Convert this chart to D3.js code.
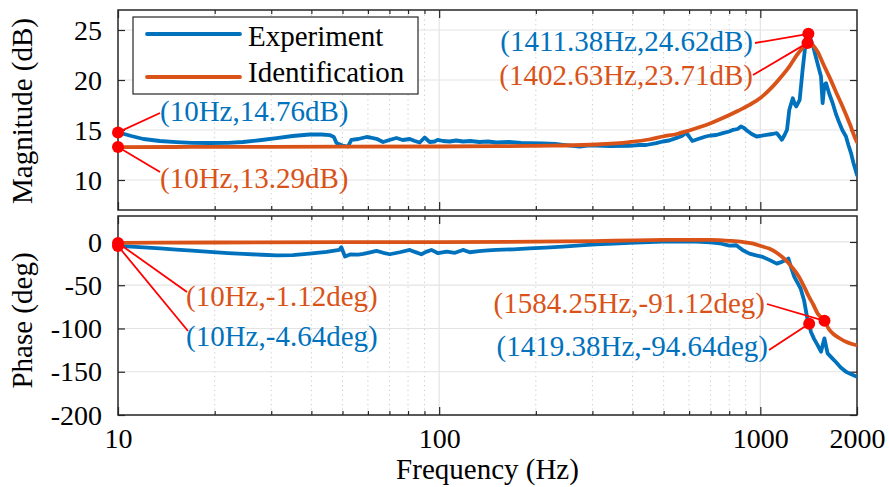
<!DOCTYPE html>
<html>
<head>
<meta charset="utf-8">
<script src="https://cdn.jsdelivr.net/npm/d3@7/dist/d3.min.js"></script>
<style>
  html, body { margin: 0; padding: 0; background: #fff; }
  svg { display: block; }
</style>
</head>
<body>
<svg id="chart" width="889" height="487"></svg>
<script>
// ---- Data -------------------------------------------------------------
// Measured (Experiment) magnitude response
const magExpFreq = [10, 11, 12, 13.5, 15.2, 17, 19.3, 22, 24.5, 28, 31.2, 35, 39.5, 43, 45.6, 47, 47.9, 50, 52, 53.3,
  56, 59.4, 61, 63.8, 66.9, 70, 73.6, 77, 81, 84, 87, 90.1, 93.4, 96.8, 99, 102.8, 107.8, 113, 118.6, 125,
  133.5, 142, 150.7, 165, 180, 191, 210, 230, 243, 274, 290, 308, 340, 391, 420, 441, 474, 497, 520, 546,
  570, 587, 600, 614, 640, 676, 700, 730, 764, 800, 823, 850, 870, 890, 904, 940, 973, 1000, 1045, 1090,
  1125, 1150, 1167, 1190, 1211, 1231, 1262, 1280, 1294, 1326, 1354, 1387, 1411.38, 1437, 1462, 1488, 1520, 1545, 1563, 1583,
  1602, 1640, 1680, 1720, 1763, 1800, 1848, 1880, 1916, 1950, 2000];
const magExpDb = [14.76, 14.4, 14.1, 13.9, 13.79, 13.72, 13.7, 13.72, 13.8, 14.0, 14.19, 14.4, 14.55, 14.55, 14.49, 14.3, 13.69, 13.45, 13.35, 14.02,
  14.1, 14.3, 14.25, 14.12, 13.8, 14.0, 14.2, 14.0, 14.1, 13.9, 13.75, 14.25, 13.8, 13.85, 14.02, 13.9, 13.85, 13.95, 13.85, 13.9,
  13.8, 13.85, 13.75, 13.8, 13.72, 13.69, 13.65, 13.6, 13.52, 13.35, 13.45, 13.45, 13.4, 13.42, 13.5, 13.5, 13.69, 13.85, 13.95, 14.19,
  14.4, 14.75, 14.35, 13.9, 14.1, 14.35, 14.45, 14.5, 14.69, 14.85, 15.02, 15.1, 15.35, 15.2, 15.0, 14.6, 14.35, 14.4, 14.52, 14.6,
  14.69, 14.3, 14.02, 14.5, 15.02, 17.02, 18.18, 17.6, 17.35, 18.01, 21.0, 24.0, 24.62, 24.0, 23.3, 22.34, 21.2, 20.34, 17.68, 19.51,
  19.68, 18.6, 17.68, 16.6, 15.69, 15.0, 14.35, 13.5, 12.69, 11.7, 10.5];

// Identified model magnitude response
const magIdFreq = [10, 15, 20, 30, 50, 100, 150, 200, 243, 308, 391, 450, 497, 550, 601, 694, 764, 850, 925, 1000,
  1092, 1160, 1231, 1300, 1354, 1402.63, 1455, 1508, 1570, 1639, 1720, 1803, 1900, 1985, 2000];
const magIdDb = [13.29, 13.3, 13.32, 13.32, 13.33, 13.35, 13.38, 13.42, 13.45, 13.55, 13.79, 14.05, 14.35, 14.6, 14.95, 15.62, 16.19, 16.9, 17.51, 18.2,
  19.34, 20.3, 21.34, 22.5, 23.2, 23.71, 23.5, 22.83, 21.6, 20.34, 18.8, 17.35, 15.6, 14.0, 13.8];

// Measured (Experiment) phase response
const phaseExpFreq = [10, 11, 12, 13.5, 15.2, 17, 19.3, 22, 24.5, 28, 31.2, 35, 39.5, 44.6, 48.9, 49.6, 50.9, 52.8, 56, 58,
  61, 63.8, 67, 70.2, 75.4, 81, 84, 88, 91, 94.6, 99.2, 105.5, 112, 118.6, 124.6, 133, 142, 150.7, 170, 191,
  215, 243, 275, 308, 350, 391, 450, 497, 560, 630, 700, 746, 801, 842, 882, 925, 970, 1017, 1070, 1125,
  1167, 1200, 1223, 1245, 1276, 1305, 1335, 1368, 1400, 1419.38, 1437, 1470, 1508, 1545, 1583, 1620, 1670, 1716, 1780, 1848,
  1920, 2000];
const phaseExpDeg = [-4.64, -5.5, -6.3, -7.5, -8.8, -10, -11.5, -12.8, -13.8, -14.8, -15.5, -15.2, -13.5, -11.5, -9.2, -6.1, -16.9, -14.5, -14.6, -13.8,
  -12, -10.4, -12.5, -14.2, -11.9, -9.2, -11.5, -14.2, -11.5, -9.2, -13, -11.1, -12.5, -9.2, -11.9, -10.5, -9.8, -9.2, -8.5, -7.3,
  -6.5, -5.4, -4, -2.7, -1.8, -1.1, -0.2, 0.4, 0.8, 0.4, -0.5, -1.5, -4.2, -3.8, -9.6, -13.5, -15.5, -17.3, -21, -25,
  -23, -21, -19.2, -28.8, -40.4, -47, -53.8, -67.3, -88, -94.64, -103.8, -112, -119.2, -126.9, -111.5, -128.8, -134, -138.5, -145, -150,
  -153, -155.8];

// Identified model phase response
const phaseIdFreq = [10, 20, 50, 100, 200, 300, 400, 500, 600, 700, 800, 880, 950, 1010, 1065, 1130, 1200, 1260, 1320, 1370,
  1418, 1460, 1508, 1584.25, 1630, 1680, 1760, 1848, 1930, 2000];
const phaseIdDeg = [-1.12, -0.6, -0.3, -0.2, 0.3, 1.0, 1.8, 2.3, 2.5, 2.3, 1.3, 0, -2, -5, -7.7, -13, -21.1, -30, -40.4, -52,
  -63.5, -72, -82.6, -91.12, -100, -105.7, -111, -115.4, -118, -119.5];

// Axis ticks
const freqMajorTicks = [10, 100, 1000];
const freqMinorTicks = [20, 30, 40, 50, 60, 70, 80, 90, 200, 300, 400, 500, 600, 700, 800, 900];
const freqTickLabels = [10, 100, 1000, 2000];
const magTicks = [10, 15, 20, 25];
const phaseTicks = [0, -50, -100, -150, -200];

// Legend entries
const seriesNames = ["Experiment", "Identification"];

// Data tips: [frequency, value, text, series]
const magTips = [
  [10, 14.76, "(10Hz,14.76dB)", 0],
  [10, 13.29, "(10Hz,13.29dB)", 1],
  [1411.38, 24.62, "(1411.38Hz,24.62dB)", 0],
  [1402.63, 23.71, "(1402.63Hz,23.71dB)", 1]
];
const phaseTips = [
  [10, -1.12, "(10Hz,-1.12deg)", 1],
  [10, -4.64, "(10Hz,-4.64deg)", 0],
  [1584.25, -91.12, "(1584.25Hz,-91.12deg)", 1],
  [1419.38, -94.64, "(1419.38Hz,-94.64deg)", 0]
];

// ---- Layout & style ---------------------------------------------------
const colors = ["#0072BD", "#D95319"];
const axisColor = "#262626";
const serif = '"Liberation Serif", "Times New Roman", serif';
const fontSize = 29;
const tickFont = 28;
const left = 118, right = 857;
const magBox = { top: 10, bottom: 210 };
const phBox = { top: 216, bottom: 415 };

const svg = d3.select("#chart");

const x = d3.scaleLog().domain([10, 2000]).range([left, right]);
const yMag = d3.scaleLinear().domain([7, 27]).range([magBox.bottom, magBox.top]);
const yPh = d3.scaleLinear().domain([-200, 30]).range([phBox.bottom, phBox.top]);

function label(sel, size) {
  return sel.style("font-family", serif).style("font-size", size + "px");
}

function drawPanel(id, box, y, yTicks, showXLabels) {
  const g = svg.append("g");
  const h = box.bottom - box.top;

  g.append("clipPath").attr("id", id + "-clip")
    .append("rect").attr("x", left).attr("y", box.top)
    .attr("width", right - left).attr("height", h);

  // grid
  const grid = g.append("g");
  grid.selectAll("line.minor").data(freqMinorTicks).join("line")
    .attr("x1", d => x(d)).attr("x2", d => x(d))
    .attr("y1", box.top).attr("y2", box.bottom)
    .attr("stroke", "#c8c8c8").attr("stroke-width", 1)
    .attr("stroke-dasharray", "1.2,3.5");
  grid.selectAll("line.major").data(freqMajorTicks.filter(d => d > 10)).join("line")
    .attr("x1", d => x(d)).attr("x2", d => x(d))
    .attr("y1", box.top).attr("y2", box.bottom)
    .attr("stroke", "#e3e3e3").attr("stroke-width", 1.2);
  grid.selectAll("line.h").data(yTicks).join("line")
    .attr("x1", left).attr("x2", right)
    .attr("y1", d => y(d)).attr("y2", d => y(d))
    .attr("stroke", "#e3e3e3").attr("stroke-width", 1.2);

  // axes (inward ticks)
  const mk = (axis, tr) => {
    const a = g.append("g").attr("transform", tr).call(axis);
    a.select(".domain").remove();
    a.selectAll(".tick line").attr("stroke", axisColor).attr("stroke-width", 1.2);
    return a;
  };
  mk(d3.axisBottom(x).tickValues(freqMinorTicks).tickSize(-4).tickFormat(""), `translate(0,${box.bottom})`);
  mk(d3.axisTop(x).tickValues(freqMinorTicks).tickSize(-4).tickFormat(""), `translate(0,${box.top})`);
  mk(d3.axisTop(x).tickValues(freqMajorTicks).tickSize(-8).tickFormat(""), `translate(0,${box.top})`);
  const xb = mk(d3.axisBottom(x).tickValues(showXLabels ? freqTickLabels : freqMajorTicks)
      .tickSize(-8).tickPadding(13).tickFormat(showXLabels ? d3.format("d") : ""),
    `translate(0,${box.bottom})`);
  label(xb.selectAll("text").attr("fill", "#000"), tickFont);

  const yl = mk(d3.axisLeft(y).tickValues(yTicks).tickSize(-7).tickPadding(16).tickFormat(d3.format("d")),
    `translate(${left},0)`);
  label(yl.selectAll("text").attr("fill", "#000"), tickFont)
    .attr("dy", "0.33em")
    .text(d => d < 0 ? "-" + Math.abs(d) : d);
  mk(d3.axisRight(y).tickValues(yTicks).tickSize(-7).tickFormat(""), `translate(${right},0)`);

  // frame
  g.append("rect").attr("x", left).attr("y", box.top)
    .attr("width", right - left).attr("height", h)
    .attr("fill", "none").attr("stroke", axisColor).attr("stroke-width", 1.5);

  return g;
}

function drawSeries(g, id, y, freq, vals, color, curve) {
  const pts = freq.map((f, i) => [f, vals[i]]);
  const line = d3.line().x(d => x(d[0])).y(d => y(d[1])).curve(curve);
  g.append("path").datum(pts)
    .attr("clip-path", `url(#${id}-clip)`)
    .attr("d", line)
    .attr("fill", "none").attr("stroke", color)
    .attr("stroke-width", 3.8).attr("stroke-linejoin", "round").attr("stroke-linecap", "round");
}

// Magnitude panel
const gMag = drawPanel("mag", magBox, yMag, magTicks, false);
drawSeries(gMag, "mag", yMag, magExpFreq, magExpDb, colors[0], d3.curveLinear);
drawSeries(gMag, "mag", yMag, magIdFreq, magIdDb, colors[1], d3.curveMonotoneX);

// Phase panel
const gPh = drawPanel("ph", phBox, yPh, phaseTicks, true);
drawSeries(gPh, "ph", yPh, phaseExpFreq, phaseExpDeg, colors[0], d3.curveLinear);
drawSeries(gPh, "ph", yPh, phaseIdFreq, phaseIdDeg, colors[1], d3.curveMonotoneX);

// Axis titles
label(svg.append("text").attr("transform", `translate(32,${(magBox.top + magBox.bottom) / 2 + 1}) rotate(-90)`)
  .attr("text-anchor", "middle").attr("fill", "#000"), fontSize).text("Magnitude (dB)");
label(svg.append("text").attr("transform", `translate(32,${(phBox.top + phBox.bottom) / 2 + 5}) rotate(-90)`)
  .attr("text-anchor", "middle").attr("fill", "#000"), fontSize).text("Phase (deg)");
label(svg.append("text").attr("x", (left + right) / 2).attr("y", 479)
  .attr("text-anchor", "middle").attr("fill", "#000"), fontSize).text("Frequency (Hz)");

// Legend
const leg = svg.append("g");
leg.append("rect").attr("x", 133).attr("y", 17).attr("width", 285).attr("height", 77)
  .attr("fill", "#fff").attr("stroke", axisColor).attr("stroke-width", 1.2);
seriesNames.forEach((name, i) => {
  const cy = 34 + i * 43;
  leg.append("line").attr("x1", 147).attr("x2", 240).attr("y1", cy).attr("y2", cy)
    .attr("stroke", colors[i]).attr("stroke-width", 3.8).attr("stroke-linecap", "round");
  label(leg.append("text").attr("x", 248).attr("y", cy + 12 - i * 7)
    .attr("fill", "#000"), fontSize).text(name);
});

// Data tips: marker, leader line, label
function drawTips(g, y, tips, anchors) {
  tips.forEach((t, i) => {
    const [f, v, txt, s] = t;
    const a = anchors[i];
    g.append("line").attr("x1", x(f)).attr("y1", y(v)).attr("x2", a.lx).attr("y2", a.ly)
      .attr("stroke", "#ff0000").attr("stroke-width", 1.8);
    label(g.append("text").attr("x", a.tx).attr("y", a.ty).attr("text-anchor", a.anchor)
      .attr("fill", colors[s]), fontSize).text(txt);
  });
  tips.forEach(t => {
    g.append("circle").attr("cx", x(t[0])).attr("cy", y(t[1])).attr("r", 6).attr("fill", "#ff0000");
  });
}

drawTips(svg.append("g"), yMag, magTips, [
  { lx: 160, ly: 113, tx: 160, ty: 121, anchor: "start" },
  { lx: 160, ly: 172, tx: 160, ty: 188, anchor: "start" },
  { lx: 755, ly: 43, tx: 753, ty: 51, anchor: "end" },
  { lx: 753, ly: 75, tx: 753, ty: 85, anchor: "end" }
]);
drawTips(svg.append("g"), yPh, phaseTips, [
  { lx: 187, ly: 292, tx: 186, ty: 306, anchor: "start" },
  { lx: 188, ly: 331, tx: 186, ty: 346, anchor: "start" },
  { lx: 767, ly: 304, tx: 765, ty: 313, anchor: "end" },
  { lx: 769, ly: 350, tx: 768, ty: 356, anchor: "end" }
]);
</script>
</body>
</html>
